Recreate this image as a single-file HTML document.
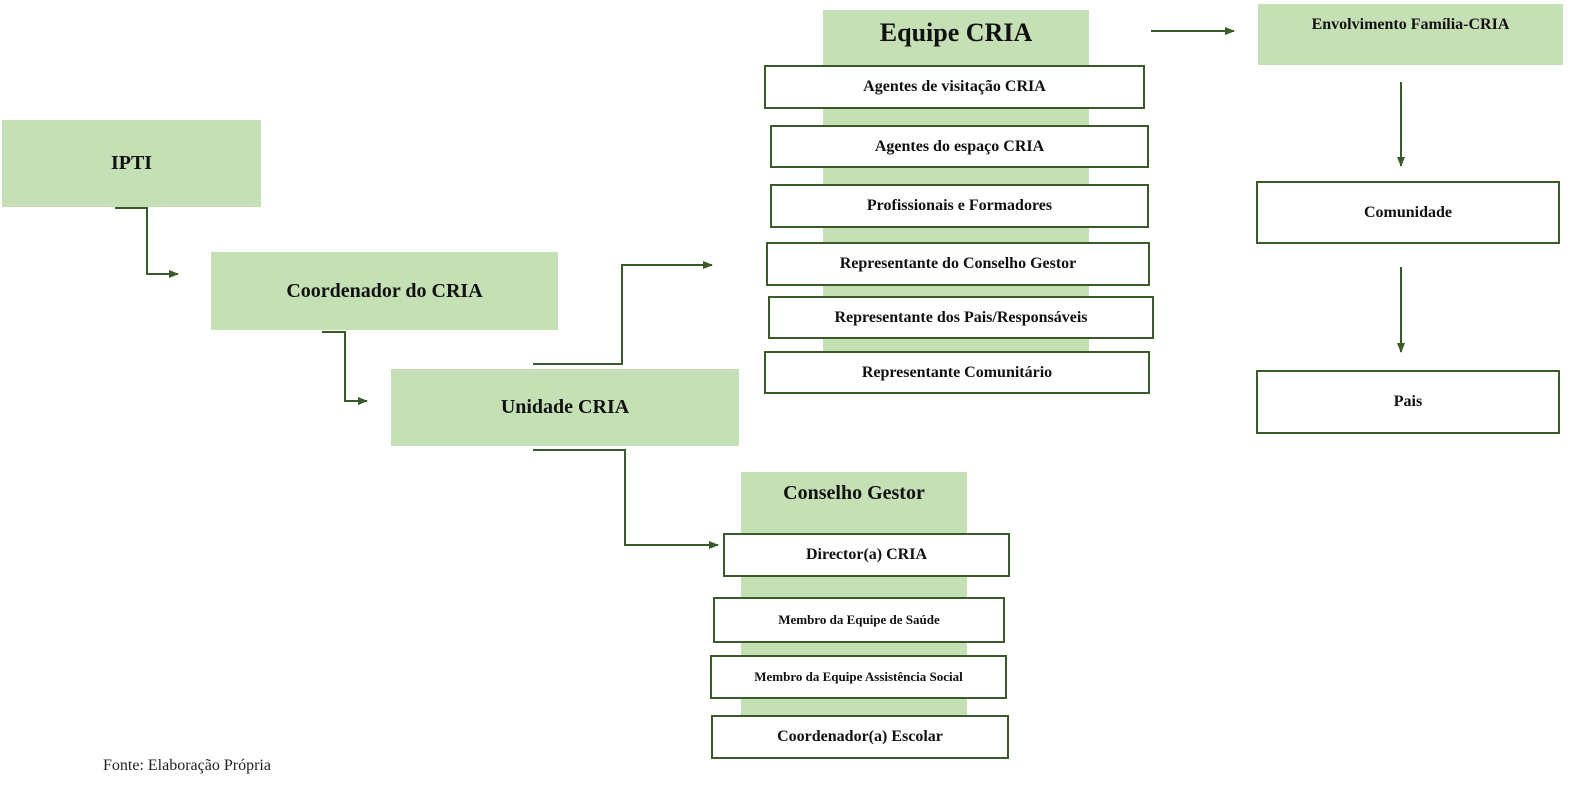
<!DOCTYPE html>
<html><head><meta charset="utf-8"><style>
body{margin:0;width:1595px;height:808px;background:#fff;position:relative;overflow:hidden;font-family:"Liberation Serif",serif;}
.g{position:absolute;background:#c5e0b4;display:flex;align-items:center;justify-content:center;font-weight:bold;color:#111;}
.b{position:absolute;background:#fff;border:2px solid #3b5a2a;box-sizing:border-box;display:flex;align-items:center;justify-content:center;font-weight:bold;font-size:16px;color:#111;}
svg{position:absolute;left:0;top:0}
</style></head><body>
<div class="g" style="left:2px;top:120px;width:259px;height:87px;font-size:20px">IPTI</div>
<div class="g" style="left:211px;top:252px;width:347px;height:78px;font-size:20px">Coordenador do CRIA</div>
<div class="g" style="left:391px;top:369px;width:348px;height:77px;font-size:20px">Unidade CRIA</div>
<div class="g" style="left:823px;top:10px;width:266px;height:382px;font-size:26px;align-items:flex-start;padding-top:8px;box-sizing:border-box">Equipe CRIA</div>
<div class="g" style="left:741px;top:472px;width:226px;height:263px;font-size:20px;align-items:flex-start;padding-top:10px;box-sizing:border-box">Conselho Gestor</div>
<div class="g" style="left:1258px;top:4px;width:305px;height:61px;font-size:16px;align-items:flex-start;padding-top:12px;box-sizing:border-box">Envolvimento Família-CRIA</div>

<div class="b" style="left:764px;top:65px;width:381px;height:44px">Agentes de visitação CRIA</div>
<div class="b" style="left:770px;top:125px;width:379px;height:43px">Agentes do espaço CRIA</div>
<div class="b" style="left:770px;top:184px;width:379px;height:44px">Profissionais e Formadores</div>
<div class="b" style="left:766px;top:242px;width:384px;height:44px">Representante do Conselho Gestor</div>
<div class="b" style="left:768px;top:296px;width:386px;height:43px">Representante dos Pais/Responsáveis</div>
<div class="b" style="left:764px;top:351px;width:386px;height:43px">Representante Comunitário</div>

<div class="b" style="left:723px;top:533px;width:287px;height:44px">Director(a) CRIA</div>
<div class="b" style="left:713px;top:597px;width:292px;height:46px;font-size:13px">Membro da Equipe de Saúde</div>
<div class="b" style="left:710px;top:655px;width:297px;height:44px;font-size:13px">Membro da Equipe Assistência Social</div>
<div class="b" style="left:711px;top:715px;width:298px;height:44px">Coordenador(a) Escolar</div>

<div class="b" style="left:1256px;top:181px;width:304px;height:63px">Comunidade</div>
<div class="b" style="left:1256px;top:370px;width:304px;height:64px">Pais</div>

<svg width="1595" height="808">
<defs><marker id="a" markerWidth="10" markerHeight="10" refX="9" refY="5" orient="auto" markerUnits="userSpaceOnUse"><path d="M0,1 L10,5 L0,9 Z" fill="#3b5a2a"/></marker></defs>
<g stroke="#3b5a2a" stroke-width="2" fill="none" marker-end="url(#a)">
<polyline points="115,208 147,208 147,274 178,274"/>
<polyline points="322,332 345,332 345,401 367,401"/>
<polyline points="533,364 622,364 622,265 712,265"/>
<polyline points="533,450 625,450 625,545 718,545"/>
<line x1="1151" y1="31" x2="1234" y2="31"/>
<line x1="1401" y1="82" x2="1401" y2="166"/>
<line x1="1401" y1="267" x2="1401" y2="352"/>
</g>
</svg>
<div style="position:absolute;left:103px;top:757px;font-size:16px;color:#222">Fonte: Elaboração Própria</div>
</body></html>
